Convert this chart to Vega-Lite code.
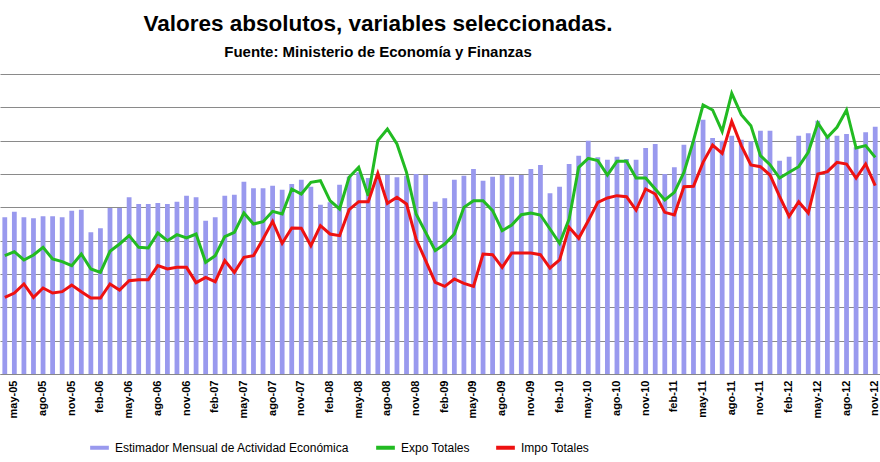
{
  "$schema": "https://vega.github.io/schema/vega-lite/v6.json",
  "width": 880,
  "height": 300,
  "autosize": "none",
  "padding": {"left": 0, "top": 74, "right": 0, "bottom": 88},
  "background": "white",
  "title": {
    "text": "Valores absolutos, variables seleccionadas.",
    "subtitle": "Fuente: Ministerio de Economía y Finanzas",
    "anchor": "middle",
    "dx": -62,
    "offset": 14,
    "font": "Liberation Sans",
    "fontSize": 22.5,
    "fontWeight": "bold",
    "color": "black",
    "subtitleFont": "Liberation Sans",
    "subtitleFontSize": 15,
    "subtitleFontWeight": "bold",
    "subtitleColor": "black",
    "subtitlePadding": 10
  },
  "data": {
    "values": [
      {"mes": "abr-05", "emae": 47, "expo": 35.5, "impo": 23},
      {"mes": "may-05", "emae": 48.7, "expo": 36.7, "impo": 24.3},
      {"mes": "jun-05", "emae": 47, "expo": 34.2, "impo": 27},
      {"mes": "jul-05", "emae": 46.7, "expo": 35.7, "impo": 23},
      {"mes": "ago-05", "emae": 47.3, "expo": 38, "impo": 25.8},
      {"mes": "sep-05", "emae": 47.3, "expo": 34.5, "impo": 24.3},
      {"mes": "oct-05", "emae": 47, "expo": 33.7, "impo": 24.7},
      {"mes": "nov-05", "emae": 49, "expo": 32.5, "impo": 26.7},
      {"mes": "dic-05", "emae": 49.3, "expo": 36, "impo": 24.7},
      {"mes": "ene-06", "emae": 42.5, "expo": 31.5, "impo": 22.8},
      {"mes": "feb-06", "emae": 43.7, "expo": 30.5, "impo": 22.8},
      {"mes": "mar-06", "emae": 49.8, "expo": 36.8, "impo": 27},
      {"mes": "abr-06", "emae": 49.8, "expo": 39, "impo": 25.2},
      {"mes": "may-06", "emae": 53, "expo": 41.5, "impo": 28},
      {"mes": "jun-06", "emae": 51, "expo": 38, "impo": 28.3},
      {"mes": "jul-06", "emae": 51, "expo": 37.8, "impo": 28.3},
      {"mes": "ago-06", "emae": 51.3, "expo": 42.3, "impo": 32.5},
      {"mes": "sep-06", "emae": 51, "expo": 40, "impo": 31.5},
      {"mes": "oct-06", "emae": 51.7, "expo": 41.8, "impo": 32},
      {"mes": "nov-06", "emae": 53.5, "expo": 40.8, "impo": 32},
      {"mes": "dic-06", "emae": 53, "expo": 42, "impo": 27.4},
      {"mes": "ene-07", "emae": 46, "expo": 33.5, "impo": 29},
      {"mes": "feb-07", "emae": 47, "expo": 35.5, "impo": 27.7},
      {"mes": "mar-07", "emae": 53.5, "expo": 41.2, "impo": 34},
      {"mes": "abr-07", "emae": 53.8, "expo": 42.5, "impo": 30.5},
      {"mes": "may-07", "emae": 57.7, "expo": 48.3, "impo": 35},
      {"mes": "jun-07", "emae": 55.7, "expo": 45, "impo": 35.5},
      {"mes": "jul-07", "emae": 55.7, "expo": 45.7, "impo": 40.5},
      {"mes": "ago-07", "emae": 56.5, "expo": 48.8, "impo": 45.8},
      {"mes": "sep-07", "emae": 55.3, "expo": 48, "impo": 39.2},
      {"mes": "oct-07", "emae": 57, "expo": 55.5, "impo": 43.8},
      {"mes": "nov-07", "emae": 58.3, "expo": 54, "impo": 43.7},
      {"mes": "dic-07", "emae": 56.2, "expo": 57.5, "impo": 38.5},
      {"mes": "ene-08", "emae": 50.8, "expo": 58, "impo": 44.5},
      {"mes": "feb-08", "emae": 51.5, "expo": 52, "impo": 42},
      {"mes": "mar-08", "emae": 56.8, "expo": 49.5, "impo": 41.5},
      {"mes": "abr-08", "emae": 59.2, "expo": 59, "impo": 49.3},
      {"mes": "may-08", "emae": 60.5, "expo": 62, "impo": 51.7},
      {"mes": "jun-08", "emae": 58.8, "expo": 53.5, "impo": 51.7},
      {"mes": "jul-08", "emae": 59.7, "expo": 70, "impo": 60.2},
      {"mes": "ago-08", "emae": 59.7, "expo": 73.5, "impo": 51.2},
      {"mes": "sep-08", "emae": 59, "expo": 69, "impo": 53},
      {"mes": "oct-08", "emae": 59.5, "expo": 60.5, "impo": 51},
      {"mes": "nov-08", "emae": 60, "expo": 48, "impo": 40.5},
      {"mes": "dic-08", "emae": 59.7, "expo": 42.5, "impo": 34},
      {"mes": "ene-09", "emae": 51.7, "expo": 37, "impo": 27.5},
      {"mes": "feb-09", "emae": 52.7, "expo": 39, "impo": 26.3},
      {"mes": "mar-09", "emae": 58.3, "expo": 42, "impo": 28.5},
      {"mes": "abr-09", "emae": 59.5, "expo": 50, "impo": 27.2},
      {"mes": "may-09", "emae": 61.5, "expo": 52, "impo": 26.3},
      {"mes": "jun-09", "emae": 58, "expo": 52, "impo": 36},
      {"mes": "jul-09", "emae": 59.2, "expo": 49, "impo": 35.8},
      {"mes": "ago-09", "emae": 59.7, "expo": 43, "impo": 32},
      {"mes": "sep-09", "emae": 59.2, "expo": 44.7, "impo": 36.3},
      {"mes": "oct-09", "emae": 59.7, "expo": 47.8, "impo": 36.3},
      {"mes": "nov-09", "emae": 61.5, "expo": 48.3, "impo": 36.3},
      {"mes": "dic-09", "emae": 62.7, "expo": 47.7, "impo": 35.8},
      {"mes": "ene-10", "emae": 54.2, "expo": 43.5, "impo": 31.8},
      {"mes": "feb-10", "emae": 56.2, "expo": 39.2, "impo": 34.2},
      {"mes": "mar-10", "emae": 63, "expo": 46.5, "impo": 44},
      {"mes": "abr-10", "emae": 65.5, "expo": 62, "impo": 40.7},
      {"mes": "may-10", "emae": 70, "expo": 64.7, "impo": 46},
      {"mes": "jun-10", "emae": 65, "expo": 64, "impo": 51.5},
      {"mes": "jul-10", "emae": 64.3, "expo": 59.7, "impo": 52.8},
      {"mes": "ago-10", "emae": 65.2, "expo": 63.8, "impo": 53.5},
      {"mes": "sep-10", "emae": 64.5, "expo": 63.8, "impo": 53.2},
      {"mes": "oct-10", "emae": 64.3, "expo": 58.8, "impo": 49.2},
      {"mes": "nov-10", "emae": 67.8, "expo": 58.8, "impo": 55.5},
      {"mes": "dic-10", "emae": 69, "expo": 55.5, "impo": 54},
      {"mes": "ene-11", "emae": 60, "expo": 52.2, "impo": 48.5},
      {"mes": "feb-11", "emae": 62, "expo": 54.5, "impo": 47.7},
      {"mes": "mar-11", "emae": 68.8, "expo": 60.5, "impo": 56.2},
      {"mes": "abr-11", "emae": 70, "expo": 70, "impo": 56.3},
      {"mes": "may-11", "emae": 76.3, "expo": 80.7, "impo": 63.5},
      {"mes": "jun-11", "emae": 70.8, "expo": 79.2, "impo": 68.7},
      {"mes": "jul-11", "emae": 70, "expo": 72.8, "impo": 66.2},
      {"mes": "ago-11", "emae": 71.5, "expo": 84.2, "impo": 75.8},
      {"mes": "sep-11", "emae": 70.3, "expo": 77.8, "impo": 68.5},
      {"mes": "oct-11", "emae": 69.8, "expo": 74.5, "impo": 62.7},
      {"mes": "nov-11", "emae": 73, "expo": 65.5, "impo": 62.2},
      {"mes": "dic-11", "emae": 73, "expo": 62.8, "impo": 59.7},
      {"mes": "ene-12", "emae": 64, "expo": 58.8, "impo": 53.3},
      {"mes": "feb-12", "emae": 65.2, "expo": 60.5, "impo": 47.3},
      {"mes": "mar-12", "emae": 71.5, "expo": 62.2, "impo": 51.7},
      {"mes": "abr-12", "emae": 72.2, "expo": 66.5, "impo": 48.3},
      {"mes": "may-12", "emae": 76, "expo": 75.3, "impo": 60},
      {"mes": "jun-12", "emae": 71, "expo": 71, "impo": 60.7},
      {"mes": "jul-12", "emae": 71.5, "expo": 74, "impo": 63.5},
      {"mes": "ago-12", "emae": 72, "expo": 79.2, "impo": 63},
      {"mes": "sep-12", "emae": 68, "expo": 67.8, "impo": 58.8},
      {"mes": "oct-12", "emae": 72.5, "expo": 68.5, "impo": 63},
      {"mes": "nov-12", "emae": 74.2, "expo": 65, "impo": 56.5}
    ]
  },
  "encoding": {
    "x": {
      "field": "mes",
      "type": "ordinal",
      "sort": null,
      "scale": {"paddingInner": 0.5, "paddingOuter": 0.25},
      "title": null,
      "axis": {
        "labelAngle": -90,
        "labelFont": "Liberation Sans",
        "labelFontWeight": "bold",
        "labelFontSize": 11,
        "labelColor": "black",
        "labelExpr": "indexof(['may','ago','nov','feb'], slice(datum.value,0,3)) >= 0 ? datum.value : ''",
        "ticks": false,
        "domainColor": "#888888",
        "labelPadding": 6
      }
    }
  },
  "layer": [
    {
      "mark": {
        "type": "bar",
        "color": {
          "gradient": "linear", "x1": 0, "y1": 0, "x2": 0, "y2": 1,
          "stops": [{"offset": 0, "color": "#8c8ce6"}, {"offset": 1, "color": "#d8d8f8"}]
        }
      },
      "encoding": {
        "y": {
          "field": "emae",
          "type": "quantitative",
          "scale": {"domain": [0, 90]},
          "title": null,
          "axis": {"grid": true, "gridColor": "#8a8a8a", "gridWidth": 1.2, "tickCount": 9, "labels": false, "ticks": false, "domain": false}
        },
        "color": {"datum": "Estimador Mensual de Actividad Económica"}
      }
    },
    {
      "mark": {"type": "line", "strokeWidth": 3},
      "encoding": {
        "y": {"field": "expo", "type": "quantitative"},
        "color": {"datum": "Expo Totales"}
      }
    },
    {
      "mark": {"type": "line", "strokeWidth": 3},
      "encoding": {
        "y": {"field": "impo", "type": "quantitative"},
        "color": {"datum": "Impo Totales"}
      }
    }
  ],
  "resolve": {"scale": {"color": "shared"}},
  "config": {
    "view": {"stroke": null},
    "range": {"category": ["#9999ee", "#22bb22", "#ee1111"]},
    "legend": {
      "orient": "none",
      "legendX": 88,
      "legendY": 362,
      "direction": "horizontal",
      "title": null,
      "labelFont": "Liberation Sans",
      "labelFontSize": 12,
      "labelColor": "black",
      "symbolType": "stroke",
      "symbolStrokeWidth": 4,
      "symbolSize": 350,
      "columnPadding": 18,
      "labelLimit": 400
    }
  }
}
